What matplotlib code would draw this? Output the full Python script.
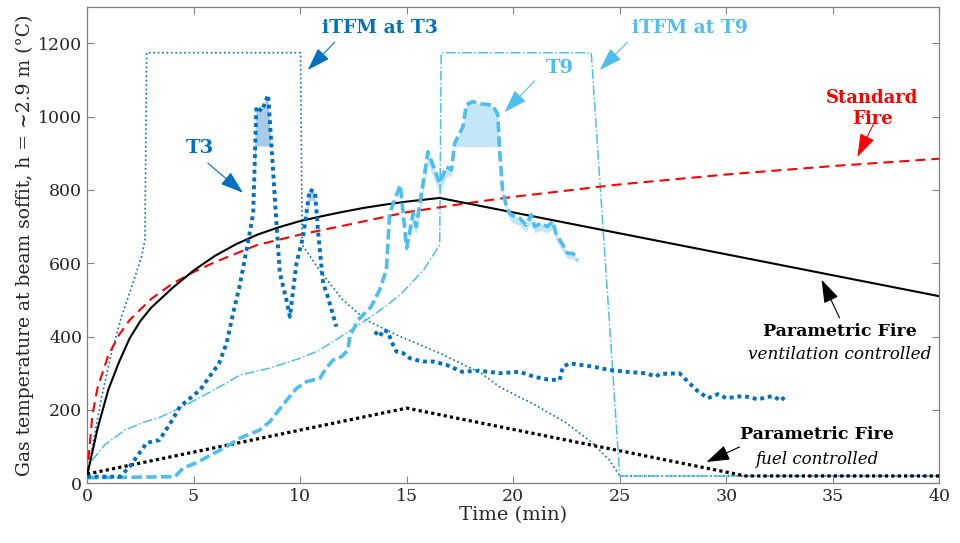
"""Gas temperature at beam soffit: measured T3/T9, iTFM predictions, standard and parametric fires."""
import matplotlib
matplotlib.use("Agg")
import matplotlib.pyplot as plt
import numpy as np

nan = np.nan

# Measured thermocouple T3 (min, degC); gap where the record drops out
t3_t = [0, 1.55, 2.0, 2.8, 3.4, 4.0, 4.36, 5.3, 6.2, 6.55, 6.86, 7.17, 7.5, 7.8, 7.95, 8.2, 8.5,
        8.66, 8.9, 9.05, 9.36, 9.52, 9.83, 10.14, 10.45, 10.7, 10.85, 11.08, 11.3, 11.7, 12.5,
        13.5, 13.58, 13.74, 13.9, 14.13, 14.29, 14.52, 14.83, 15.15, 15.46, 15.77, 16.24, 16.86,
        17.6, 18.4, 19.4, 20.3, 21.0, 21.7, 22.18, 22.33, 22.65, 23.74, 24.5, 25.3, 26.2, 26.7,
        26.87, 27.8, 28.04, 28.6, 29.13, 29.6, 30.0, 30.8, 31.48, 32.18, 32.57, 32.73]
t3_T = [18, 18, 45, 110, 118, 172, 209, 254, 327, 382, 464, 540, 640, 736, 1027, 1015, 1059,
        918, 700, 573, 500, 454, 600, 672, 800, 795, 682, 545, 509, 427, nan,
        413, 409, 400, 418, 413, 386, 359, 355, 341, 336, 332, 332, 323,
        304, 307, 300, 304, 290, 282, 282, 318, 327, 318, 309, 304, 300, 291,
        298, 300, 286, 254, 232, 243, 232, 238, 229, 238, 225, 236]
t3_low = [18, 18, 45, 110, 118, 172, 209, 254, 327, 382, 464, 540, 640, 736, 918, 918, 918,
          918, 700, 573, 500, 454, 600, 672, 770, 770, 682, 545, 509, 427, nan,
          413, 409, 400, 418, 413, 386, 359, 355, 341, 336, 332, 332, 323,
          304, 307, 300, 304, 290, 282, 282, 318, 327, 318, 309, 304, 300, 291,
          298, 300, 286, 254, 232, 243, 232, 238, 229, 238, 225, 236]

# Measured thermocouple T9
t9_t = [0, 4.13, 4.5, 5.1, 6.55, 7.17, 8.1, 8.58, 9.2, 9.83, 10.3, 10.92, 11.23, 11.55, 11.94,
        12.25, 12.33, 12.72, 12.95, 13.34, 13.73, 14.05, 14.2, 14.7, 15.0, 15.3, 15.45, 16.0,
        16.55, 16.86, 17.1, 17.25, 17.64, 17.8, 18.1, 18.4, 18.9, 19.08, 19.28, 19.36, 19.5,
        19.7, 19.9, 20.3, 20.6, 20.84, 21.0, 21.3, 21.6, 21.86, 22.0, 22.33, 22.56, 22.8, 23.03]
t9_T = [15, 18, 41, 55, 100, 123, 145, 168, 214, 259, 277, 286, 314, 336, 345,
        363, 400, 445, 459, 482, 527, 582, 736, 813, 641, 736, 700, 904,
        818, 863, 854, 927, 972, 1032, 1041, 1035, 1032, 1027, 1004, 909, 800,
        750, 732, 723, 704, 732, 700, 709, 700, 714, 682, 650, 627, 627, 609]
t9_low = [15, 18, 41, 55, 100, 123, 145, 168, 214, 259, 277, 286, 314, 336, 345,
          363, 400, 445, 459, 482, 527, 582, 736, 813, 641, 700, 680, 870,
          790, 835, 840, 918, 918, 918, 918, 918, 918, 918, 918, 909, 790,
          735, 712, 703, 684, 712, 682, 690, 682, 694, 664, 632, 612, 612, 600]

# iTFM predictions
itfm3_t = [0, 0.37, 0.69, 1.15, 1.62, 2.1, 2.56, 2.72, 2.8, 10.02, 10.1, 10.9, 12.0, 13.1, 14.7,
           16.55, 18.5, 19.36, 20.3, 20.9, 22.5, 23.74, 24.5, 25.0, 40]
itfm3_T = [20, 136, 236, 355, 454, 536, 618, 663, 1174, 1174, 650, 582, 500, 445, 400,
           355, 300, 263, 235, 218, 164, 109, 64, 20, 20]
itfm9_t = [0, 0.2, 0.84, 1.78, 2.6, 3.42, 4.36, 5.5, 6.5, 7.17, 8.58, 10.0, 10.77, 11.55, 12.3,
           13.1, 13.9, 14.7, 15.8, 16.55, 16.62, 23.66, 25.0, 40]
itfm9_T = [20, 60, 105, 145, 165, 180, 205, 240, 272, 295, 314, 341, 359, 386, 415,
           445, 478, 514, 582, 650, 1174, 1174, 20, 20]

# Standard fire (ISO 834)
iso_t = [0, 0.25, 0.5, 1, 1.5, 2, 3, 4, 5, 6, 8, 10, 12, 15, 18, 20, 25, 30, 35, 40]
iso_T = [20, 185, 261, 349, 404, 445, 502, 544, 576, 603, 650, 678, 702, 739, 765, 781, 815,
         842, 865, 885]

# Parametric fires
pv_t = [0, 0.25, 0.5, 1, 1.5, 2, 2.5, 3, 4, 5, 6, 7, 8, 9, 10, 11, 12, 13, 14, 15, 16.55, 40]
pv_T = [20, 85, 150, 255, 330, 395, 442, 478, 532, 580, 620, 652, 678, 698, 715, 728, 740,
        751, 760, 768, 778, 510]
pf_t = [0, 15, 30.9, 40]
pf_T = [25, 205, 20, 20]

DARK = "#0070C0"
LIGHT = "#4DBEEE"

plt.rcParams["font.family"] = ["DejaVu Serif"]
fig = plt.figure(figsize=(9.6, 5.43), dpi=100)
ax = fig.add_axes([0.0906, 0.11, 0.888, 0.878])

ax.fill_between(t3_t, t3_low, t3_T, color="#A9CBEA", lw=0, zorder=1)
ax.fill_between(t9_t, t9_low, t9_T, color="#C4E7F8", lw=0, zorder=1)

ax.plot(itfm3_t, itfm3_T, color=DARK, lw=1.2, ls=":", zorder=2)
ax.plot(itfm9_t, itfm9_T, color=LIGHT, lw=1.1, ls="-.", zorder=2)
ax.plot(iso_t, iso_T, color="#FF0000", lw=1.5, ls=(0, (4.8, 2.9)), zorder=3)
ax.plot(pv_t, pv_T, color="black", lw=1.5, zorder=3)
ax.plot(pf_t, pf_T, color="black", lw=2.3, ls=(0, (1, 1)), zorder=3)
ax.plot(t9_t, t9_T, color=LIGHT, lw=2.6, ls=(0, (2.9, 1.2)), zorder=4)
ax.plot(t3_t, t3_T, color=DARK, lw=2.8, ls=(0, (1, 1)), zorder=4)

ax.set_xlim(0, 40)
ax.set_ylim(0, 1300)
ax.set_xticks(np.arange(0, 41, 5))
ax.set_yticks(np.arange(0, 1201, 200))
ax.tick_params(direction="in", top=True, right=True, length=5, width=0.8,
               color="#808080", labelsize=12.5, labelcolor="#262626")
for s in ax.spines.values():
    s.set_color("#808080")
    s.set_linewidth(0.9)
ax.set_xlabel("Time (min)", fontsize=14, color="#262626", labelpad=1)
ax.set_ylabel("Gas temperature at beam soffit, h = ~2.9 m (°C)", fontsize=13.5,
              color="#262626", labelpad=3)

arrow = dict(arrowstyle="-|>,head_length=0.9,head_width=0.3", mutation_scale=16,
             lw=0.8, shrinkA=0, shrinkB=0)


def note(txt, xy, xytext, color, head, size=14):
    ax.annotate("", xy=head, xytext=xytext, arrowprops=dict(arrow, color=color), zorder=6)
    ax.text(xy[0], xy[1], txt, color=color, fontsize=size, fontweight="bold",
            ha="center", va="center", linespacing=1.25, zorder=6)


note("iTFM at T3", (13.74, 1241), (11.63, 1203), DARK, (10.36, 1127), 13.5)
note("iTFM at T9", (28.28, 1241), (25.37, 1203), LIGHT, (24.06, 1127), 13.5)
note("T3", (5.3, 914), (5.67, 873), DARK, (7.32, 792))
note("T9", (22.18, 1133), (21.0, 1097), LIGHT, (19.6, 1012))
note("Standard\nFire", (36.86, 1022), (36.95, 985), "#FF0000", (36.15, 890), 13)

ax.annotate("", xy=(34.47, 555), xytext=(35.31, 451),
            arrowprops=dict(arrow, color="black"), zorder=6)
ax.text(35.31, 413, "Parametric Fire", fontsize=12.5, fontweight="bold", ha="center",
        va="center")
ax.text(35.31, 350, "ventilation controlled", fontsize=12.2, style="italic", ha="center",
        va="center")
ax.annotate("", xy=(29.07, 58), xytext=(30.62, 99),
            arrowprops=dict(arrow, color="black"), zorder=6)
ax.text(34.23, 132, "Parametric Fire", fontsize=12.5, fontweight="bold", ha="center",
        va="center")
ax.text(34.23, 64, "fuel controlled", fontsize=12, style="italic", ha="center", va="center")

fig.savefig("out.png", dpi=100)
